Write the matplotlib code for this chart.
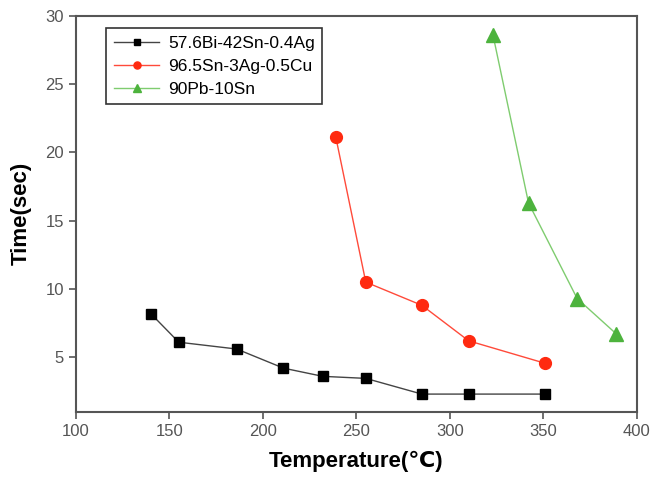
import matplotlib.pyplot as plt

plt.rcParams['font.family'] = ['Liberation Sans', 'DejaVu Sans']

# data
bi_temp = [140, 155, 186, 211, 232, 255, 285, 310, 351]
bi_time = [8.2, 6.1, 5.6, 4.2, 3.6, 3.45, 2.3, 2.3, 2.3]
sac_temp = [239, 255, 285, 310, 351]
sac_time = [21.1, 10.5, 8.8, 6.2, 4.55]
pb_temp = [323, 342, 368, 389]
pb_time = [28.6, 16.3, 9.3, 6.7]

labels = ['57.6Bi-42Sn-0.4Ag', '96.5Sn-3Ag-0.5Cu', '90Pb-10Sn']
xticks = [100, 150, 200, 250, 300, 350, 400]
yticks = [5, 10, 15, 20, 25, 30]

fig = plt.figure(figsize=(6.54, 4.8), dpi=100)
ax = fig.add_axes([0.116, 0.142, 0.858, 0.825])

ax.plot(bi_temp, bi_time, color='#444444', lw=1, marker='s', ms=7.5,
        mfc='black', mec='black', label=labels[0])
ax.plot(sac_temp, sac_time, color='#ff4a3a', lw=1, marker='o', ms=8.5,
        mfc='#ff2a10', mec='#ff2a10', label=labels[1])
ax.plot(pb_temp, pb_time, color='#7fcc6f', lw=1, marker='^', ms=9.5,
        mfc='#4db33d', mec='#4db33d', label=labels[2])

ax.set_xlim(100, 400)
ax.set_ylim(1, 30)
ax.set_xticks(xticks)
ax.set_yticks(yticks)
ax.tick_params(direction='out', length=5, width=1.2, colors='#555555',
               labelsize=12, labelcolor='#555555', top=False, right=False)
for s in ax.spines.values():
    s.set_color('#555555')
    s.set_linewidth(1.5)

ax.set_xlabel('Temperature(℃)', fontsize=16, fontweight='bold', labelpad=9)
ax.set_ylabel('Time(sec)', fontsize=16, fontweight='bold', labelpad=10)

leg = ax.legend(loc='upper left', bbox_to_anchor=(0.054, 0.97), fontsize=12.5,
                numpoints=1, handlelength=2.6, markerscale=0.6, fancybox=False,
                framealpha=1, borderpad=0.45, labelspacing=0.45,
                handletextpad=0.5, borderaxespad=0)
leg.get_frame().set_edgecolor('#333333')
leg.get_frame().set_linewidth(1.2)

fig.savefig('out.png', dpi=100)
